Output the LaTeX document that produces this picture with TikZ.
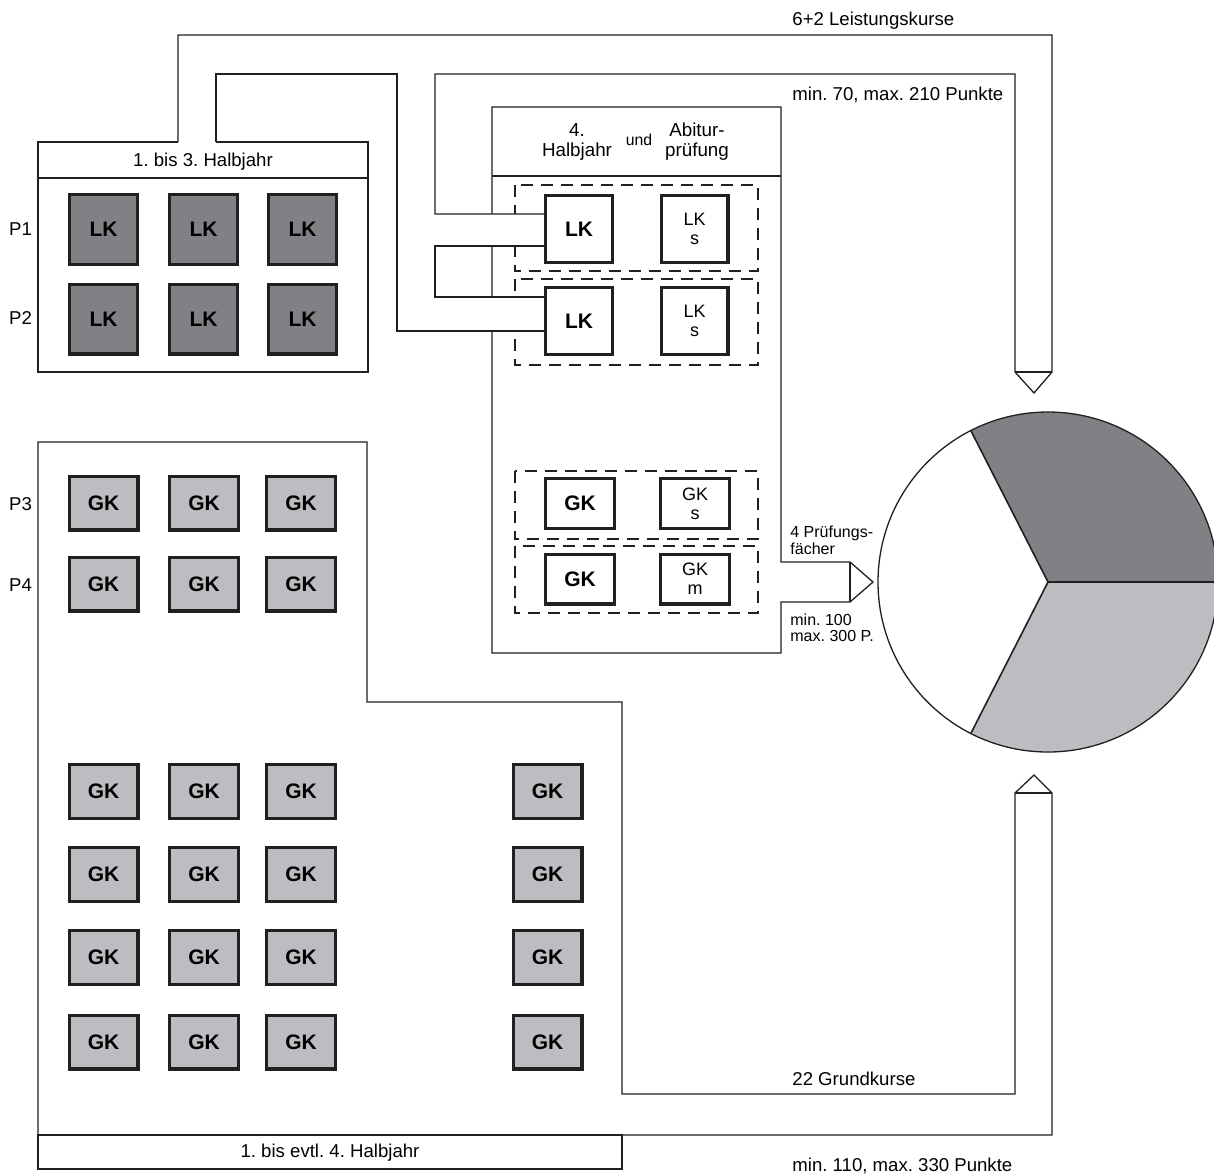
\documentclass[tikz,border=0pt]{standalone}
\usepackage{fontspec}
\setmainfont{Liberation Sans}
\definecolor{ink}{HTML}{231F20}
\definecolor{darkg}{HTML}{808184}
\definecolor{lightg}{HTML}{BCBDC0}
\frenchspacing
\begin{document}
\frenchspacing
\begin{tikzpicture}[x=0.5pt,y=-0.5pt,line join=miter,
  outl/.style={draw=ink,line width=0.65pt},
  dashbox/.style={draw=ink,line width=0.6pt,dash pattern=on 6pt off 4pt},
  cbox/.style={draw=ink,line width=1.6pt,inner sep=0pt,font=\fontsize{10.5}{12}\selectfont\bfseries},
  lkg/.style={cbox,fill=darkg,minimum width=33.9pt,minimum height=34.9pt},
  gkg/.style={cbox,fill=lightg,minimum width=34.4pt,minimum height=26.9pt},
  lkw/.style={cbox,fill=white,minimum width=33.4pt,minimum height=33.4pt},
  gkw/.style={cbox,fill=white,minimum width=34.4pt,minimum height=24.9pt},
  subtxt/.style={font=\fontsize{9}{9.6}\selectfont,align=center},
  lbl/.style={font=\fontsize{9.3}{10}\selectfont,inner sep=0pt},
  small/.style={font=\fontsize{8}{7.4}\selectfont,inner sep=0pt,align=left},
]
\useasboundingbox (0,0) rectangle (1214,1174);
\clip (0,0) rectangle (1214,1174);
\fill[white] (0,0) rectangle (1214,1174);

% ---- 1. bis 3. Halbjahr box
\draw[outl] (178,142) -- (38,142) -- (38,372) -- (368,372) -- (368,142) -- (216,142);
\draw[outl] (38,178) -- (368,178);
\node[lbl,anchor=base] (h13) at (203,166) {1. bis 3. Halbjahr};

% ---- lower box (1. bis evtl. 4. Halbjahr) with pipe to pie
\draw[outl] (38,442) -- (367,442) -- (367,702) -- (622,702) -- (622,1094) -- (1015,1094)
  -- (1015,793) -- (1034,775) -- (1052,793) -- (1052,1135) -- (38,1135) -- cycle;
\draw[outl] (1015,793) -- (1052,793);
\draw[outl] (38,1135) rectangle (622,1169);
\node[lbl,anchor=base] (h14) at (330,1157) {1. bis evtl. 4. Halbjahr};

% ---- 4. Halbjahr und Abiturpruefung box
\draw[outl] (492,107) -- (781,107) -- (781,562) -- (850,562) -- (873,582) -- (850,602)
  -- (781,602) -- (781,653) -- (492,653) -- cycle;
\draw[outl] (850,562) -- (850,602);
\draw[outl] (492,176) -- (781,176);
\node[lbl,align=center,font=\fontsize{9.4}{10}\selectfont] (hj4) at (577,142) {4.\\Halbjahr};
\node[lbl,anchor=base,font=\fontsize{7.9}{9}\selectfont] (und) at (639,145) {und};
\node[lbl,align=center,font=\fontsize{9.4}{10}\selectfont] (abi) at (697,142) {Abitur-\\prüfung};

% dashed pair frames
\draw[dashbox] (515,185) rectangle (758,271);
\draw[dashbox] (515,279) rectangle (758,365);
\draw[dashbox] (515,471) rectangle (758,539);
\draw[dashbox] (515,546) rectangle (758,613);

% ---- upper pipe (Leistungskurse)
\fill[white] (178,142) -- (178,35) -- (1052,35) -- (1052,372) -- (1034,393) -- (1015,372)
  -- (1015,74) -- (435,74) -- (435,214) -- (546,214) -- (546,246) -- (435,246) -- (435,297)
  -- (546,297) -- (546,331) -- (397,331) -- (397,74) -- (216,74) -- (216,142) -- cycle;
\draw[outl] (178,142) -- (178,35) -- (1052,35) -- (1052,372) -- (1034,393) -- (1015,372)
  -- (1015,74) -- (435,74) -- (435,214) -- (546,214);
\draw[outl] (546,246) -- (435,246) -- (435,297) -- (546,297);
\draw[outl] (546,331) -- (397,331) -- (397,74) -- (216,74) -- (216,142);
\draw[outl] (1015,372) -- (1052,372);

% ---- grey LK boxes
\foreach \r/\y in {1/229.5,2/319} {
  \foreach \c/\x in {1/103.5,2/203.5,3/302.5} {
    \node[lkg] (lk\r\c) at (\x,\y) {LK};
  }
}
% ---- grey GK boxes
\foreach \r/\y in {3/503,4/584,5/791.5,6/874.5,7/957.5,8/1042} {
  \foreach \c/\x in {1/103.5,2/204,3/301} {
    \node[gkg] (gk\r\c) at (\x,\y) {GK};
  }
}
\foreach \r/\y in {5/791.5,6/874.5,7/957.5,8/1042} {
  \node[gkg] (gk\r4) at (547.5,\y) {GK};
}

% row labels
\node[lbl,anchor=base] (p1) at (20.5,235) {P1};
\node[lbl,anchor=base] (p2) at (20.5,324) {P2};
\node[lbl,anchor=base] (p3) at (20.5,510) {P3};
\node[lbl,anchor=base] (p4) at (20.5,591) {P4};

% ---- white boxes (4. Halbjahr / Abitur)
\node[lkw] (w1) at (579,229) {LK};
\node[lkw,subtxt] (s1) at (694.5,229) {LK\\s};
\node[lkw] (w2) at (579,321) {LK};
\node[lkw,subtxt] (s2) at (694.5,321) {LK\\s};
\node[gkw] (w3) at (580,503.5) {GK};
\node[gkw,subtxt] (s3) at (695,503.5) {GK\\s};
\node[gkw] (w4) at (580,579) {GK};
\node[gkw,subtxt] (s4) at (695,579) {GK\\m};

% ---- annotations
\node[lbl,anchor=base west] (t1) at (792,25) {6+2 Leistungskurse};
\node[lbl,anchor=base west] (t2) at (792,100) {min. 70, max. 210 Punkte};
\node[small,anchor=west] (t3) at (790,540) {4 Prüfungs-\\fächer};
\node[small,anchor=west,font=\fontsize{8}{7.8}\selectfont] (t4) at (790,628) {min. 100\\max. 300 P.};
\node[lbl,anchor=base west] (t5) at (792,1085) {22 Grundkurse};
\node[lbl,anchor=base west] (t6) at (792,1171) {min. 110, max. 330 Punkte};

% ---- pie chart
\coordinate (pc) at (1048,582);
\fill[darkg] (pc) -- ++(170,0) arc[start angle=0,end angle=-117,radius=170] -- cycle;
\fill[lightg] (pc) -- ++(170,0) arc[start angle=0,end angle=117,radius=170] -- cycle;
\draw[outl] (pc) circle[radius=170];
\draw[outl,line width=0.8pt] (pc) -- ++(170,0);
\draw[outl,line width=0.8pt] (pc) -- ++(-117:170);
\draw[outl,line width=0.8pt] (pc) -- ++(117:170);
\end{tikzpicture}
\end{document}
